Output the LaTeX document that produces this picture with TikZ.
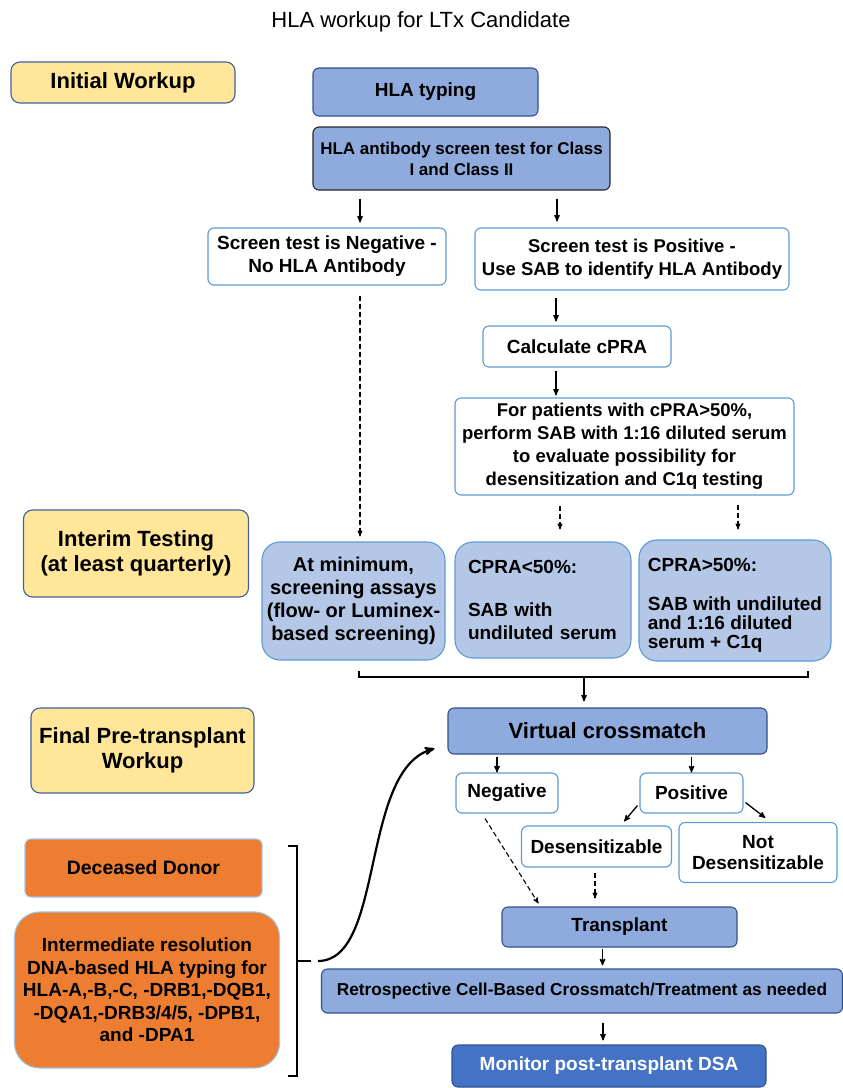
\documentclass[tikz,border=0pt]{standalone}
\usepackage{fontspec}
\setmainfont{Liberation Sans}
\usetikzlibrary{positioning, arrows, arrows.meta, calc}
\definecolor{stagefill}{HTML}{FFE699}
\definecolor{stageline}{HTML}{41619B}
\definecolor{bluefill}{HTML}{8FAADC}
\definecolor{blueline}{HTML}{2F528F}
\definecolor{paleblue}{HTML}{B4C7E7}
\definecolor{paleline}{HTML}{5B9BD5}
\definecolor{orangefill}{HTML}{ED7D31}
\definecolor{orangeline}{HTML}{9DC3E6}
\definecolor{darkblue}{HTML}{4472C4}
\tikzset{
        >=stealth', % small bold heads
        box/.style={draw, line width=1.1pt, rounded corners=6pt, align=center, inner sep=2pt,
                    font=\bfseries\fontsize{19}{23}\selectfont}, % every box
        stagebox/.style={box, fill=stagefill, draw=stageline, rounded corners=9pt,
                    font=\bfseries\fontsize{22}{25}\selectfont}, % yellow phase labels
        bluebox/.style={box, fill=bluefill, draw=blueline}, % main steps
        whitebox/.style={box, fill=white, draw=paleline}, % outcomes
        palebox/.style={box, fill=paleblue, draw=paleline, rounded corners=18pt}, % interim tests
        donorbox/.style={box, fill=orangefill, draw=orangeline}, % donor side
        arr/.style={->, line width=1.3pt}, % solid arrow
        dasharr/.style={->, line width=1.1pt, dash pattern=on 5pt off 3pt}, % dashed arrow
        line/.style={-, line width=1.3pt},
    }
\begin{document}
\begin{tikzpicture}[x=1pt, y=-1pt]
    \useasboundingbox (0,0) rectangle (843,1088);
    \node[font=\fontsize{22}{26}\selectfont] (title) at (421,22) {HLA workup for LTx Candidate};

    % phase labels
    \node[stagebox, minimum width=224, minimum height=41] (init) at (123,82.5) {Initial Workup};
    \node[stagebox, minimum width=225, minimum height=87] (interim) at (136,553.5) {Interim Testing\\(at least quarterly)};
    \node[stagebox, minimum width=223, minimum height=85] (final) at (142.5,750.5) {Final Pre-transplant\\Workup};

    % initial workup
    \node[bluebox, minimum width=225, minimum height=48] (typing) at (425.5,92) {HLA typing};
    \node[bluebox, draw=black!85, minimum width=297, minimum height=63, font=\bfseries\fontsize{17}{21}\selectfont]
        (screen) at (461.5,158.5) {HLA antibody screen test for Class\\I and Class II};
    \node[whitebox, minimum width=238, minimum height=57] (neg) at (327,256.5) {Screen test is Negative -\\No HLA Antibody};
    \node[whitebox, minimum width=314, minimum height=62, font=\bfseries\fontsize{18.5}{23}\selectfont]
        (pos) at (632,259) {Screen test is Positive -\\Use SAB to identify HLA Antibody};
    \node[whitebox, minimum width=188, minimum height=41] (cpra) at (577,346.5) {Calculate cPRA};
    \node[whitebox, minimum width=339, minimum height=97, font=\bfseries\fontsize{18.5}{23}\selectfont]
        (dilute) at (624.5,446.5) {For patients with cPRA>50\%,\\perform SAB with 1:16 diluted serum\\to evaluate possibility for\\desensitization and C1q testing};

    % interim testing
    \node[palebox, minimum width=183, minimum height=118, font=\bfseries\fontsize{20}{23}\selectfont] (minim) at (353.5,601)
        {At minimum,\\screening assays\\(flow- or Luminex-\\based screening)};
    \node[palebox, minimum width=176, minimum height=116, align=left, text width=150] (cpralo) at (543,600)
        {CPRA<50\%:\\[20pt]SAB with\\undiluted serum};
    \node[palebox, minimum width=192, minimum height=121, align=left, font=\bfseries\fontsize{19}{19}\selectfont]
        (cprahi) at (735,600.5) {\rule{0pt}{22pt}CPRA>50\%:\\[20pt]SAB with undiluted\\and 1:16 diluted\\serum + C1q};

    % final workup
    \node[bluebox, minimum width=319, minimum height=46, font=\bfseries\fontsize{22}{26}\selectfont] (vx) at (607.5,731) {Virtual crossmatch};
    \node[whitebox, minimum width=102, minimum height=40] (vneg) at (507,793) {Negative};
    \node[whitebox, minimum width=103, minimum height=40] (vpos) at (691.5,793) {Positive};
    \node[whitebox, minimum width=150, minimum height=41] (desens) at (596.5,846.5) {Desensitizable};
    \node[whitebox, minimum width=158, minimum height=60, font=\bfseries\fontsize{19}{21}\selectfont] (notdesens) at (758,852.5) {Not\\Desensitizable};
    \node[bluebox, minimum width=235, minimum height=40] (tx) at (619.5,927) {Transplant};
    \node[bluebox, minimum width=521, minimum height=44, font=\bfseries\fontsize{17.3}{21}\selectfont]
        (retro) at (582,991) {Retrospective Cell-Based Crossmatch/Treatment as needed};
    \node[bluebox, fill=darkblue, text=white, minimum width=314, minimum height=42] (dsa) at (609,1066) {Monitor post-transplant DSA};

    % donor side
    \node[donorbox, minimum width=237, minimum height=58, font=\bfseries\fontsize{19.4}{23}\selectfont] (donor) at (143.5,868) {Deceased Donor};
    \node[donorbox, minimum width=265, minimum height=156, rounded corners=25pt, font=\bfseries\fontsize{19}{22.5}\selectfont]
        (dnatype) at (147,990) {Intermediate resolution\\DNA-based HLA typing for\\HLA-A,-B,-C, -DRB1,-DQB1,\\-DQA1,-DRB3/4/5, -DPB1,\\and -DPA1};

    % connectors
    \draw[arr, shorten <=8pt, shorten >=5pt] ([xshift=33pt]neg.north |- screen.south) -- ([xshift=33pt]neg.north);
    \draw[arr, shorten <=8pt, shorten >=6pt] ([xshift=-75pt]pos.north |- screen.south) -- ([xshift=-75pt]pos.north);
    \draw[arr, shorten <=7pt, shorten >=4pt] ([xshift=-21pt]cpra.north |- pos.south) -- ([xshift=-21pt]cpra.north);
    \draw[arr, shorten <=3pt, shorten >=2pt] ([xshift=-21pt]cpra.south) -- ([xshift=-21pt]cpra.south |- dilute.north);
    \draw[dasharr, shorten <=10pt, shorten >=12pt] ([xshift=17pt]cpralo.north |- dilute.south) -- ([xshift=17pt]cpralo.north);
    \draw[dasharr, shorten <=9pt, shorten >=10pt] ([xshift=3pt]cprahi.north |- dilute.south) -- ([xshift=3pt]cprahi.north);
    \draw[dasharr, shorten <=10pt, shorten >=5pt] ([xshift=33pt]neg.south) -- ([xshift=33pt]neg.south |- minim.north);

    % interim results join
    \coordinate (joinL) at (359,677);
    \coordinate (joinR) at (808,677);
    \coordinate (joinM) at (584,677);
    \draw[line] ([yshift=6pt]joinL) -- (joinL) -- (joinR) -- ([yshift=6pt]joinR);
    \draw[arr, shorten >=6pt] (joinM) -- (joinM |- vx.north);

    \draw[arr, shorten <=2pt] ([xshift=-10pt]vneg.north |- vx.south) -- ([xshift=-10pt]vneg.north);
    \draw[arr, shorten <=2pt] (vpos.north |- vx.south) -- (vpos.north);
    \draw[arr] ([xshift=-2pt, yshift=8pt]vpos.south west) -- ([xshift=-48pt, yshift=4pt]desens.north east);
    \draw[arr] ([xshift=2pt, yshift=11pt]vpos.south east) -- ([xshift=87pt, yshift=4pt]notdesens.north west);
    \draw[dasharr] ([xshift=-22pt, yshift=-5pt]vneg.south) -- ([xshift=37pt, yshift=3pt]tx.north west);
    \draw[dasharr, shorten <=5pt, shorten >=8pt] ([xshift=-1.5pt]desens.south) -- ([xshift=-1.5pt]desens.south |- tx.north);
    \draw[arr, shorten <=1pt, shorten >=3pt] ([xshift=-17pt]tx.south) -- ([xshift=-17pt]tx.south |- retro.north);
    \draw[arr, shorten <=9pt, shorten >=4pt] ([xshift=-6pt]dsa.north |- retro.south) -- ([xshift=-6pt]dsa.north);

    % donor bracket into the crossmatch
    \coordinate (brTop) at (297,846);
    \coordinate (brBot) at (297,1076);
    \coordinate (brMid) at (297,961);
    \draw[line] ([xshift=-9pt]brTop) -- (brTop) -- (brBot) -- ([xshift=-9pt]brBot);
    \draw[line] (brMid) -- ([xshift=14pt]brMid);
    \draw[arr, line width=2.2pt] ([xshift=21pt]brMid) .. controls (385,961) and (360,770) .. ([xshift=-13pt, yshift=6pt]vx.south west);
\end{tikzpicture}
\end{document}
